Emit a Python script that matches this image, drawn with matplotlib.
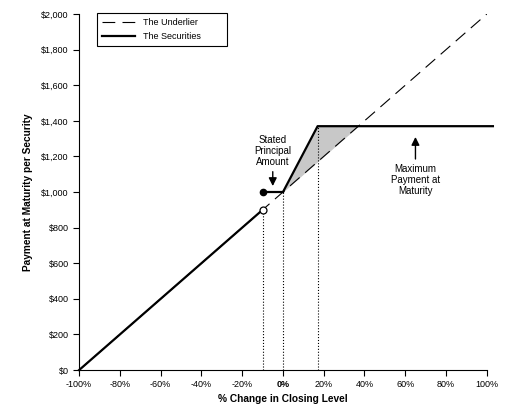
import matplotlib
matplotlib.use("Agg")
import matplotlib.pyplot as plt

plt.rcParams['font.family'] = ['Liberation Sans', 'DejaVu Sans']

# % change in closing level and payment values
underlier_x = [-100, 100]
underlier_y = [0, 2000]

buffer_x = [-100, -10]
buffer_y = [0, 900]
principal_x = [-10, 0]
principal_y = [1000, 1000]
upside_x = [0, 17, 103]
upside_y = [1000, 1370, 1370]

shade_x = [0, 17, 37]
shade_top = [1000, 1370, 1370]
shade_bottom = [1000, 1170, 1370]

marker_x = [-10, 0, 17]
marker_y = [900, 1000, 1370]

x_ticks = list(range(-100, 101, 20))
x_labels = ['%d%%' % t for t in x_ticks]
y_ticks = list(range(0, 2001, 200))
y_labels = ['${:,}'.format(t) for t in y_ticks]

fig = plt.figure(figsize=(5.24, 4.13), dpi=100)
ax = fig.add_axes([0.151, 0.104, 0.778, 0.862])

ax.fill_between(shade_x, shade_bottom, shade_top, color='#c8c8c8', lw=0, zorder=1)

for x, y in zip(marker_x, marker_y):
    ax.plot([x, x], [0, y], color='black', ls=':', lw=0.8, zorder=2)

ax.plot(underlier_x, underlier_y, color='black', lw=0.8, dashes=(11.5, 6.5),
        label='The Underlier', zorder=3)
ax.plot(buffer_x, buffer_y, color='black', lw=1.6, label='The Securities', zorder=4,
        clip_on=False)
ax.plot(principal_x, principal_y, color='black', lw=1.6, zorder=4)
ax.plot(upside_x, upside_y, color='black', lw=1.6, zorder=4, clip_on=False)

ax.plot([-10], [1000], 'o', color='black', ms=4.5, zorder=5)
ax.plot([-10], [900], 'o', mfc='white', mec='black', mew=0.9, ms=5, zorder=5)

ax.annotate('', xy=(-5, 1018), xytext=(-5, 1130),
            arrowprops=dict(arrowstyle='-|>', color='black', lw=1, mutation_scale=12))
ax.text(-5, 1140, 'Stated\nPrincipal\nAmount', ha='center', va='bottom',
        fontsize=7, linespacing=1.15)

ax.annotate('', xy=(65, 1325), xytext=(65, 1170),
            arrowprops=dict(arrowstyle='-|>', color='black', lw=1, mutation_scale=12))
ax.text(65, 1160, 'Maximum\nPayment at\nMaturity', ha='center', va='top',
        fontsize=7, linespacing=1.15)

ax.set_xlim(-100, 100)
ax.set_ylim(0, 2000)
ax.set_xticks(x_ticks)
ax.set_xticklabels(x_labels)
ax.set_yticks(y_ticks)
ax.set_yticklabels(y_labels)
for lab in ax.get_xticklabels():
    if lab.get_text() == '0%':
        lab.set_fontweight('bold')

ax.spines['top'].set_visible(False)
ax.spines['right'].set_visible(False)
ax.spines['left'].set_linewidth(0.8)
ax.spines['bottom'].set_linewidth(0.8)
ax.tick_params(direction='out', length=4.5, width=0.8, labelsize=6.5, pad=3)

ax.set_xlabel('% Change in Closing Level', fontsize=7.3, fontweight='bold', labelpad=3)
ax.set_ylabel('Payment at Maturity per Security', fontsize=7.3, fontweight='bold', labelpad=6)

# legend box stretched to the reference width
leg = ax.legend(loc='upper left', bbox_to_anchor=(0.045, 0.5, 0.317, 0.502),
                mode='expand', borderaxespad=0,
                fontsize=6.5, frameon=True, fancybox=False, edgecolor='black',
                framealpha=1, handlelength=3.6, handletextpad=0.85,
                borderpad=0.55, labelspacing=0.5)
leg.get_frame().set_linewidth(0.8)

fig.savefig('out.png', dpi=100)
